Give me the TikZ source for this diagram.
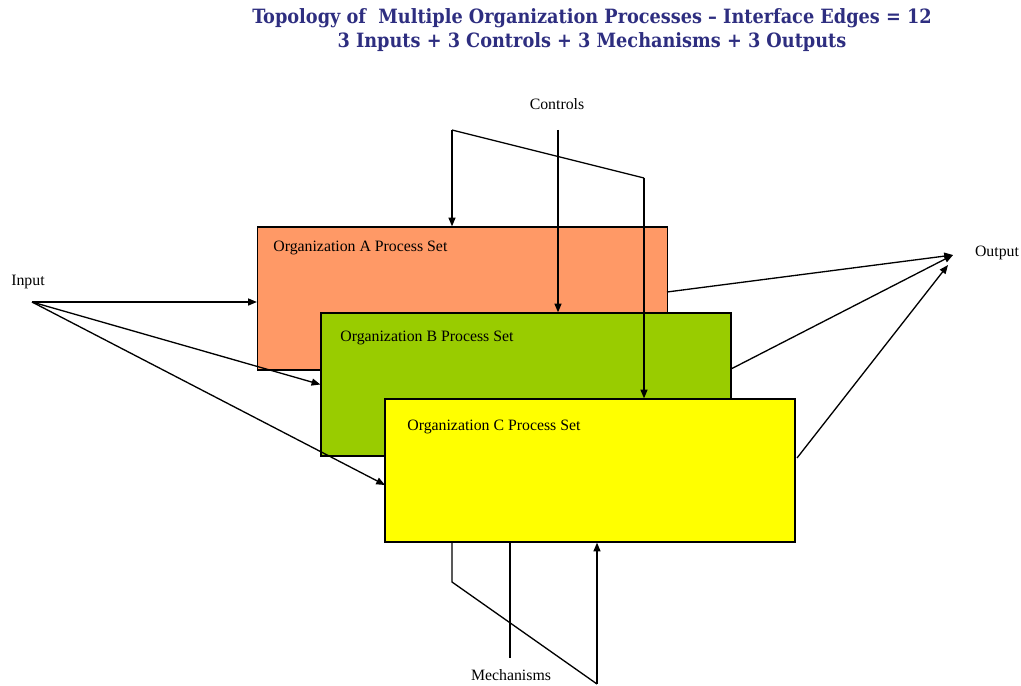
\documentclass[tikz,border=0pt]{standalone}
\usepackage{fontspec}
\setmainfont{Liberation Serif}
\newfontfamily\titlefont{DejaVu Serif Condensed}
\usetikzlibrary{arrows.meta}
\definecolor{titleblue}{RGB}{46,46,128}
\definecolor{orgA}{RGB}{255,153,102}
\definecolor{orgB}{RGB}{153,204,0}
\definecolor{orgC}{RGB}{255,255,0}
\tikzset{
  procbox/.style={draw=black, line width=0.75pt, minimum width=8.2cm, minimum height=2.86cm, inner sep=0pt},
  boxlabel/.style={anchor=west, font=\fontsize{9}{10}\selectfont, inner sep=0pt},
  plainlabel/.style={font=\fontsize{9}{10}\selectfont, inner sep=0pt},
  flow/.style={line width=0.75pt, -{Triangle[length=5pt,width=4pt]}},
  wire/.style={line width=0.75pt},
}
\begin{document}
\begin{tikzpicture}[x=0.02cm, y=-0.02cm]
\useasboundingbox (0,0) rectangle (1021,686);

% title
\node[font=\titlefont\bfseries\fontsize{11.2}{13.6}\selectfont, text=titleblue, align=center] (title) at (592,30)
  {Topology of \ Multiple Organization Processes – Interface Edges = 12\\
   3 Inputs + 3 Controls + 3 Mechanisms + 3 Outputs};

% the three process sets
\node[procbox, fill=orgA] (A) at (462.5,298.5) {};
\node[procbox, fill=orgB] (B) at (526,384.5) {};
\node[procbox, fill=orgC] (C) at (590,470.5) {};
\node[boxlabel] (la) at (273,248) {Organization A Process Set};
\node[boxlabel] (lb) at (340,338) {Organization B Process Set};
\node[boxlabel] (lc) at (407,427) {Organization C Process Set};

% outer labels
\node[plainlabel] (input) at (28,282) {Input};
\node[plainlabel] (output) at (997,253) {Output};
\node[plainlabel] (controls) at (557,104) {Controls};
\node[plainlabel] (mech) at (511,675) {Mechanisms};

% connector end points
\coordinate (src) at (32,302);
\coordinate (cin) at (385,485);
\coordinate (ctop) at (558,130);
\coordinate (ck1) at (452,130);
\coordinate (ck2) at (644,178);
\coordinate (outA) at (953,255);
\coordinate (outC) at (948,265);
\coordinate (aout) at (667,292);
\coordinate (bout) at (731,369);
\coordinate (cout) at (797,458);
\coordinate (m1) at (452,542);
\coordinate (m2) at (452,582);
\coordinate (m3) at (597,684);
\coordinate (mm) at (510,658);

% inputs
\draw[flow] (src) -- (A.west |- src);
\draw[flow] (src) -- (B.west);
\draw[flow] (src) -- (cin);

% controls
\draw[flow] (ck1) -- (ck1 |- A.north);
\draw[wire] (ck1) -- (ck2);
\draw[flow] (ck2) -- (ck2 |- C.north);
\draw[flow] (ctop) -- (ctop |- B.north);

% outputs
\draw[flow] (aout) -- (outA);
\draw[flow] (bout) -- (outA);
\draw[flow] (cout) -- (outC);

% mechanisms
\draw[wire] (m1 |- C.south) -- (m2) -- (m3);
\draw[flow] (m3) -- (m3 |- C.south);
\draw[wire] (mm |- C.south) -- (mm);
\end{tikzpicture}
\end{document}
